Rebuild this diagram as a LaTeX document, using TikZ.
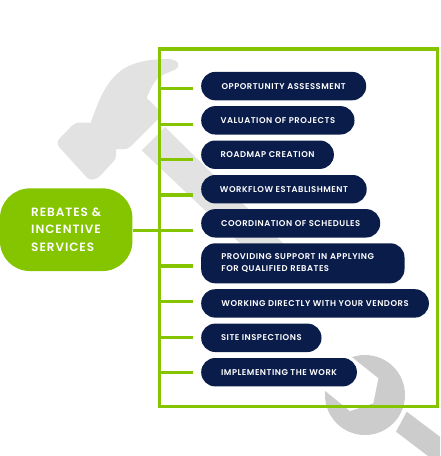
\documentclass[tikz,border=0pt]{standalone}
\usepackage{fontspec}
\newfontfamily\pillfont[LetterSpace=6]{Poppins SemiBold}
\newfontfamily\mainfont[LetterSpace=8]{Poppins SemiBold}
\definecolor{brandgreen}{HTML}{84C500}
\definecolor{brandnavy}{HTML}{0A1C4A}
\definecolor{hammergray}{HTML}{E2E2E2}
\definecolor{wrenchgray}{HTML}{CCCCCC}
\tikzset{
  pill/.style={fill=brandnavy, rounded corners=14pt, anchor=west, minimum height=28.4pt, inner sep=0pt, text=white, font=\pillfont\fontsize{8.4}{11.6}\selectfont},
  mainpill/.style={fill=brandgreen, rounded corners=30pt, minimum width=132.5pt, minimum height=82.7pt, inner sep=0pt, text=white, align=left, font=\mainfont\fontsize{12}{17.6}\selectfont},
  outline/.style={draw=brandgreen, line width=3.3pt, minimum width=278.4pt, minimum height=357.7pt, inner sep=0pt},
  link/.style={draw=brandgreen, line width=3.3pt}
}
\begin{document}
\begin{tikzpicture}[x=1pt, y=-1pt]
  \useasboundingbox (0,0) rectangle (440,456);
  % Martelo
  \fill[hammergray] (166.7,59) .. controls (175,59) and (180,62) .. (178,67) .. controls (176,71) and (166,72) .. (158,78) .. controls (153,83) and (150,90) .. (146.7,98) -- (159,110) -- (159,118) -- (131,146) .. controls (129,148) and (127,149) .. (125,149) -- (116,149) -- (116,155) .. controls (116,158) and (115,160) .. (113,162) -- (100,176) .. controls (96,180) and (90,181) .. (87,177.7) -- (60,148) .. controls (57,145) and (57,141) .. (60,138) -- (71.7,126) .. controls (74,124) and (76,122.7) .. (78,122.7) -- (90.7,122.7) .. controls (97,105) and (104,85) .. (118,73) .. controls (130,62) and (150,59) .. (166.7,59) -- cycle;
  \fill[hammergray] (141.7,150.5) -- (165,127) -- (290,250) -- (247,250) -- cycle;
  % Chave
  \fill[wrenchgray] (365,395) circle (40);
  \fill[white] (325,390.7) -- (350,411) -- (373.3,403.3) -- (378.3,378.3) -- (353.3,358.3) -- (340,350) -- (318,385) -- cycle;
  \fill[wrenchgray] (406.7,411.7) -- (440,436.7) -- (440,456) -- (428,456) -- (396,431.7) -- cycle;
  % Moldura
  \node[outline] (frame) at (298.5,227.9) {};
  % Itens
  \node[pill, minimum width=165pt] (opportunity) at (201,86.1) {OPPORTUNITY ASSESSMENT};
  \node[pill, minimum width=153.3pt] (valuation) at (201,120.3) {VALUATION OF PROJECTS};
  \node[pill, minimum width=132.7pt] (roadmap) at (201,154.7) {ROADMAP CREATION};
  \node[pill, minimum width=165.5pt] (workflow) at (201,189.2) {WORKFLOW ESTABLISHMENT};
  \node[pill, minimum width=179pt] (coordination) at (201,223.3) {COORDINATION OF SCHEDULES};
  \node[pill, minimum width=203.3pt, minimum height=40pt, text width=163pt, align=left] (support) at (201,263.3) {PROVIDING SUPPORT IN APPLYING\\FOR QUALIFIED REBATES};
  \node[pill, minimum width=227.7pt] (vendors) at (201,303.4) {WORKING DIRECTLY WITH YOUR VENDORS};
  \node[pill, minimum width=120.3pt] (inspections) at (201,337.8) {SITE INSPECTIONS};
  \node[pill, minimum width=155.7pt] (implementing) at (201,372.2) {IMPLEMENTING THE WORK};
  % Servico principal
  \node[mainpill] (rebates) at (66.2,229.7) {REBATES \&\\INCENTIVE\\SERVICES};
  \draw[link] (rebates.east |- 0,230.7) -- (frame.west |- 0,230.7);
  \foreach \tickname/\y in {t1/88.7, t2/124.3, t3/159.7, t4/195, t5/230.7, t6/266, t7/301.7, t8/337.3, t9/372.7} {
    \coordinate (\tickname) at (193.3,\y);
    \draw[link] (frame.west |- \tickname) -- (\tickname);
  }
\end{tikzpicture}
\end{document}
